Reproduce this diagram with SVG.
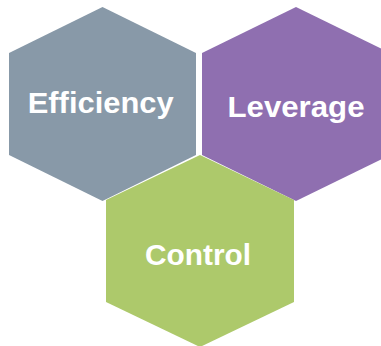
<svg xmlns="http://www.w3.org/2000/svg" width="381" height="346" viewBox="0 0 381 346">
<style>
.hex{stroke:none}
.lbl{font-family:"Liberation Sans",Arial,sans-serif;font-weight:bold;font-size:29px;fill:#FFFFFF;text-anchor:middle}
</style>
<rect width="381" height="346" fill="#FFFFFF"/>
<g id="efficiency">
<polygon class="hex" fill="#8899A8" points="102.5,7 196,53 196,155 102.5,201 9,155 9,53"/>
<text class="lbl" x="100.7" y="112.5" textLength="146" lengthAdjust="spacingAndGlyphs">Efficiency</text>
</g>
<g id="leverage">
<polygon class="hex" fill="#8F6FB0" points="296,7 390,53 390,155 296,201 202,155 202,53"/>
<text class="lbl" x="296" y="116.7" textLength="137" lengthAdjust="spacingAndGlyphs">Leverage</text>
</g>
<g id="control">
<polygon class="hex" fill="#ADC96B" points="200,155 294,200 294,302 200,347 106,302 106,200"/>
<text class="lbl" x="198" y="264.5" textLength="106" lengthAdjust="spacingAndGlyphs">Control</text>
</g>
<g id="connectors"/>
</svg>
